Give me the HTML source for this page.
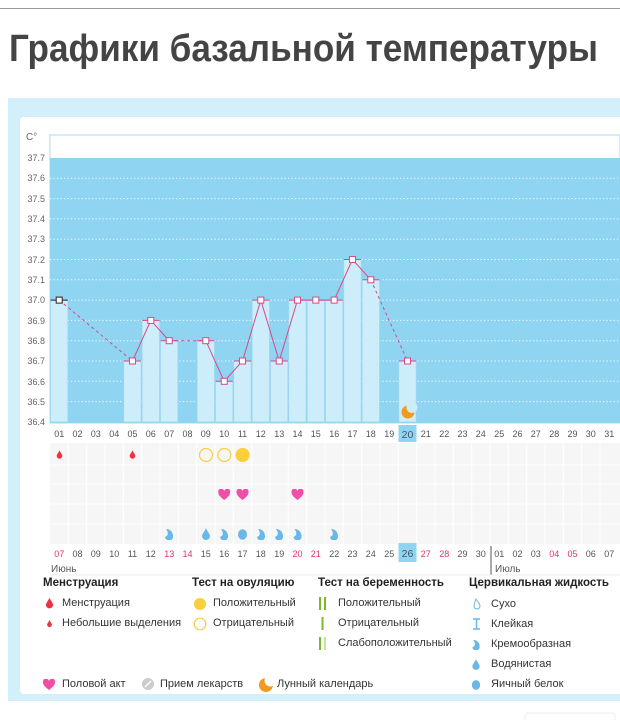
<!DOCTYPE html>
<html><head><meta charset="utf-8"><style>
body{margin:0;width:620px;height:720px;overflow:hidden;background:#fff;font-family:"Liberation Sans","DejaVu Sans",sans-serif;position:relative}
.topbar{position:absolute;left:0;top:0;width:620px;height:8px;border-bottom:1px solid #999;background:#fff}
.outer{position:absolute;left:8px;top:98px;width:612px;height:603px;background:#d3eff9}
.card{position:absolute;left:20px;top:117px;width:600px;height:577px;background:#fff;border-radius:4px 0 0 4px}
svg{position:absolute;left:0;top:0}
.lg{position:absolute;font-size:11px;color:#333;white-space:nowrap}
.lh{position:absolute;font-size:11.5px;font-weight:bold;color:#222;white-space:nowrap}
</style></head><body>
<div class="topbar"></div>
<svg width="620" height="90" style="position:absolute;left:0;top:0"><text x="9" y="61" font-size="38" font-weight="bold" fill="#444" font-family="Liberation Sans, sans-serif" textLength="589" lengthAdjust="spacingAndGlyphs">Графики базальной температуры</text></svg>
<div class="outer"></div>
<div class="card"></div>
<svg width="620" height="720" viewBox="0 0 620 720" font-family="Liberation Sans, sans-serif">
<defs>
<symbol id="drop" viewBox="0 0 10 12"><path d="M5 0 C6 3 9 6 9 8 A4 4 0 0 1 1 8 C1 6 4 3 5 0Z"/></symbol>
<symbol id="cream" viewBox="0 0 10 12"><path d="M2 1 C6 1 9 4 9 8 A4 4 0 0 1 1 9 C4 8 5 5 2 1Z"/></symbol>
<symbol id="egg" viewBox="0 0 10 12"><ellipse cx="5" cy="6.5" rx="4.5" ry="5.3"/></symbol>
<symbol id="heart" viewBox="0 0 12 11"><path d="M6 11 C2 8 0 6 0 3.3 A3 3 0 0 1 6 2 A3 3 0 0 1 12 3.3 C12 6 10 8 6 11Z"/></symbol>
</defs>
<rect x="50" y="135" width="570" height="288" fill="#fff" stroke="#a7dcf0"/>
<rect x="50" y="158" width="570" height="265" fill="#8fd5f1"/>
<g stroke="#fff" stroke-width="1" stroke-dasharray="1.2 2.3" opacity="0.9">
<line x1="50" x2="620" y1="178.3" y2="178.3"/><line x1="50" x2="620" y1="198.6" y2="198.6"/><line x1="50" x2="620" y1="218.9" y2="218.9"/><line x1="50" x2="620" y1="239.2" y2="239.2"/><line x1="50" x2="620" y1="259.5" y2="259.5"/><line x1="50" x2="620" y1="279.8" y2="279.8"/><line x1="50" x2="620" y1="300.1" y2="300.1"/><line x1="50" x2="620" y1="320.4" y2="320.4"/><line x1="50" x2="620" y1="340.7" y2="340.7"/><line x1="50" x2="620" y1="361" y2="361"/><line x1="50" x2="620" y1="381.3" y2="381.3"/><line x1="50" x2="620" y1="401.6" y2="401.6"/>
</g>
<g fill="#cdedfa" stroke="#9fd8ef" stroke-width="0.7">
<rect x="50.5" y="300" width="17.3" height="122"/>
<rect x="123.8" y="361" width="17.3" height="61"/>
<rect x="142.2" y="320.4" width="17.3" height="101.6"/>
<rect x="160.5" y="340.7" width="17.3" height="81.3"/>
<rect x="197.2" y="340.7" width="17.3" height="81.3"/>
<rect x="215.5" y="381.3" width="17.3" height="40.7"/>
<rect x="233.8" y="361" width="17.3" height="61"/>
<rect x="252.2" y="300" width="17.3" height="122"/>
<rect x="270.5" y="361" width="17.3" height="61"/>
<rect x="288.8" y="300" width="17.3" height="122"/>
<rect x="307.2" y="300" width="17.3" height="122"/>
<rect x="325.5" y="300" width="17.3" height="122"/>
<rect x="343.8" y="259.5" width="17.3" height="162.5"/>
<rect x="362.2" y="279.8" width="17.3" height="142.2"/>
<rect x="398.8" y="361" width="17.3" height="61"/>
</g>
<g font-size="9" fill="#666" text-anchor="end">
<text x="26" y="140" font-size="10" text-anchor="start">C°</text>
<text x="45" y="161">37.7</text><text x="45" y="181">37.6</text><text x="45" y="202">37.5</text><text x="45" y="222">37.4</text><text x="45" y="242">37.3</text><text x="45" y="263">37.2</text><text x="45" y="283">37.1</text><text x="45" y="303">37.0</text><text x="45" y="324">36.9</text><text x="45" y="344">36.8</text><text x="45" y="364">36.7</text><text x="45" y="385">36.6</text><text x="45" y="405">36.5</text><text x="45" y="425">36.4</text>
</g>
<g stroke="#d9488a" stroke-width="1" fill="none">
<path d="M59.2 300.1 L132.5 361" stroke-dasharray="3 3"/>
<path d="M169.2 340.7 L205.8 340.7" stroke-dasharray="3 3"/>
<path d="M370.8 279.8 L407.5 361" stroke-dasharray="3 3"/>
<path d="M132.5 361 L150.8 320.4 L169.2 340.7"/>
<path d="M205.8 340.7 L224.2 381.3 L242.5 361 L260.8 300.1 L279.2 361 L297.5 300.1 L315.8 300.1 L334.2 300.1 L352.5 259.5 L370.8 279.8"/>
<path d="M123.8 361h17.3M142.2 320.4h17.3M160.5 340.7h17.3M197.2 340.7h17.3M215.5 381.3h17.3M233.8 361h17.3M252.2 300.1h17.3M270.5 361h17.3M288.8 300.1h17.3M307.2 300.1h17.3M325.5 300.1h17.3M343.8 259.5h17.3M362.2 279.8h17.3M398.8 361h17.3"/>
</g>
<path d="M50.5 300.1h17.3" stroke="#222" stroke-width="1"/>
<g fill="#fff" stroke="#d9488a" stroke-width="1">
<rect x="129.5" y="358" width="6" height="6"/><rect x="147.8" y="317.4" width="6" height="6"/><rect x="166.2" y="337.7" width="6" height="6"/><rect x="202.8" y="337.7" width="6" height="6"/><rect x="221.2" y="378.3" width="6" height="6"/><rect x="239.5" y="358" width="6" height="6"/><rect x="257.8" y="297.1" width="6" height="6"/><rect x="276.2" y="358" width="6" height="6"/><rect x="294.5" y="297.1" width="6" height="6"/><rect x="312.8" y="297.1" width="6" height="6"/><rect x="331.2" y="297.1" width="6" height="6"/><rect x="349.5" y="256.5" width="6" height="6"/><rect x="367.8" y="276.8" width="6" height="6"/><rect x="404.5" y="358" width="6" height="6"/>
</g>
<rect x="56.2" y="297.1" width="6" height="6" fill="#fff" stroke="#222"/>
<circle cx="408" cy="412" r="6.5" fill="#f29a1e"/><circle cx="412" cy="407.5" r="5.5" fill="#cdedfa"/>
<rect x="50" y="443" width="570" height="101" fill="#f6f6f6"/>
<g stroke="#fff" stroke-width="1">
<path d="M68.3 443v101M86.7 443v101M105 443v101M123.3 443v101M141.7 443v101M160 443v101M178.3 443v101M196.7 443v101M215 443v101M233.3 443v101M251.7 443v101M270 443v101M288.3 443v101M306.7 443v101M325 443v101M343.3 443v101M361.7 443v101M380 443v101M398.3 443v101M416.7 443v101M435 443v101M453.3 443v101M471.7 443v101M490 443v101M508.3 443v101M526.7 443v101M545 443v101M563.3 443v101M581.7 443v101M600 443v101"/>
<path d="M50 465h570M50 484h570M50 504h570M50 524h570"/>
</g>
<rect x="398.5" y="425" width="18" height="17" fill="#8fd5f1"/>
<rect x="398.5" y="543" width="18" height="19" fill="#8fd5f1"/>
<g font-size="9" fill="#555" text-anchor="middle">
<text x="59.2" y="437">01</text><text x="77.5" y="437">02</text><text x="95.8" y="437">03</text><text x="114.2" y="437">04</text><text x="132.5" y="437">05</text><text x="150.8" y="437">06</text><text x="169.2" y="437">07</text><text x="187.5" y="437">08</text><text x="205.8" y="437">09</text><text x="224.2" y="437">10</text><text x="242.5" y="437">11</text><text x="260.8" y="437">12</text><text x="279.2" y="437">13</text><text x="297.5" y="437">14</text><text x="315.8" y="437">15</text><text x="334.2" y="437">16</text><text x="352.5" y="437">17</text><text x="370.8" y="437">18</text><text x="389.2" y="437">19</text><text x="407.5" y="438" font-size="10.5" fill="#456">20</text><text x="425.8" y="437">21</text><text x="444.2" y="437">22</text><text x="462.5" y="437">23</text><text x="480.8" y="437">24</text><text x="499.2" y="437">25</text><text x="517.5" y="437">26</text><text x="535.8" y="437">27</text><text x="554.2" y="437">28</text><text x="572.5" y="437">29</text><text x="590.8" y="437">30</text><text x="609.2" y="437">31</text>
</g>
<g font-size="9" fill="#555" text-anchor="middle">
<text x="59.2" y="557" fill="#e0336f">07</text><text x="77.5" y="557">08</text><text x="95.8" y="557">09</text><text x="114.2" y="557">10</text><text x="132.5" y="557">11</text><text x="150.8" y="557">12</text><text x="169.2" y="557" fill="#e0336f">13</text><text x="187.5" y="557" fill="#e0336f">14</text><text x="205.8" y="557">15</text><text x="224.2" y="557">16</text><text x="242.5" y="557">17</text><text x="260.8" y="557">18</text><text x="279.2" y="557">19</text><text x="297.5" y="557" fill="#e0336f">20</text><text x="315.8" y="557" fill="#e0336f">21</text><text x="334.2" y="557">22</text><text x="352.5" y="557">23</text><text x="370.8" y="557">24</text><text x="389.2" y="557">25</text><text x="407.5" y="557" font-size="10.5" fill="#456">26</text><text x="425.8" y="557" fill="#e0336f">27</text><text x="444.2" y="557" fill="#e0336f">28</text><text x="462.5" y="557">29</text><text x="480.8" y="557">30</text><text x="499.2" y="557">01</text><text x="517.5" y="557">02</text><text x="535.8" y="557">03</text><text x="554.2" y="557" fill="#e0336f">04</text><text x="572.5" y="557" fill="#e0336f">05</text><text x="590.8" y="557">06</text><text x="609.2" y="557">07</text>
</g>
<line x1="491" y1="546" x2="491" y2="575" stroke="#555"/>
<text x="51" y="572" font-size="10" fill="#555">Июнь</text>
<text x="495" y="572" font-size="10" fill="#555">Июль</text>
<line x1="50" y1="575" x2="620" y2="575" stroke="#eee"/>
<g fill="#ee3340"><use href="#drop" x="56" y="450" width="7" height="9"/><use href="#drop" x="129" y="450" width="7" height="9"/></g>
<circle cx="206" cy="455" r="6.5" fill="none" stroke="#f6cf45" stroke-width="1.2"/>
<circle cx="224.3" cy="455" r="6.5" fill="none" stroke="#f6cf45" stroke-width="1.2"/>
<circle cx="242.6" cy="455" r="7" fill="#f9cf3c"/>
<g fill="#f04fa7"><use href="#heart" x="218.2" y="489" width="12" height="11"/><use href="#heart" x="236.5" y="489" width="12" height="11"/><use href="#heart" x="291.5" y="489" width="12" height="11"/></g>
<g fill="#6ab8e8">
<use href="#cream" x="164" y="528" width="10" height="12"/><use href="#drop" x="201" y="528" width="10" height="12"/><use href="#cream" x="219" y="528" width="10" height="12"/><use href="#egg" x="237.5" y="528" width="10" height="12"/><use href="#cream" x="256" y="528" width="10" height="12"/><use href="#cream" x="274" y="528" width="10" height="12"/><use href="#cream" x="292.5" y="528" width="10" height="12"/><use href="#cream" x="329" y="528" width="10" height="12"/>
</g>
<use href="#drop" x="45" y="597" width="9" height="12" fill="#ee3340"/>
<use href="#drop" x="46.5" y="619" width="6" height="9" fill="#ee3340"/>
<circle cx="200" cy="604" r="6" fill="#f9cf3c"/>
<circle cx="200" cy="624" r="5.8" fill="none" stroke="#f6cf45" stroke-width="1.2"/>
<g stroke-width="2"><path d="M320 597v13M325 597v13" stroke="#7cb82f"/><path d="M322.5 617v13" stroke="#7cb82f"/><path d="M320 637v13" stroke="#7cb82f"/><path d="M325 637v13" stroke="#c8e4a0"/></g>
<path d="M476 599 C478 602 480 604 480 606 A3 3 0 0 1 474 606 C474 604 475 602 476 599Z" fill="none" stroke="#6ab8e8"/>
<path d="M473 619h7M473 629h7M476.5 619v10" stroke="#6ab8e8" stroke-width="1.5"/>
<use href="#cream" x="471" y="639" width="10" height="11" fill="#6ab8e8"/>
<use href="#drop" x="471" y="659" width="10" height="11" fill="#6ab8e8"/>
<use href="#egg" x="471" y="679" width="10" height="11" fill="#6ab8e8"/>
<use href="#heart" x="43" y="679" width="12" height="11" fill="#f04fa7"/>
<circle cx="148" cy="684" r="6" fill="#ccc"/><path d="M145 687l6-6" stroke="#fff" stroke-width="1.5"/>
<circle cx="266" cy="685" r="7" fill="#f29a1e"/><circle cx="270.5" cy="680.5" r="6" fill="#fff"/>
<rect x="525" y="713" width="90" height="10" rx="3" fill="#fff" stroke="#eee"/>
</svg>
<div class="lh" style="left:43px;top:577px">Менструация</div>
<div class="lh" style="left:192px;top:577px">Тест на овуляцию</div>
<div class="lh" style="left:318px;top:577px">Тест на беременность</div>
<div class="lh" style="left:469px;top:577px">Цервикальная жидкость</div>
<div class="lg" style="left:62px;top:597px">Менструация</div>
<div class="lg" style="left:62px;top:617px">Небольшие выделения</div>
<div class="lg" style="left:213px;top:597px">Положительный</div>
<div class="lg" style="left:213px;top:617px">Отрицательный</div>
<div class="lg" style="left:338px;top:597px">Положительный</div>
<div class="lg" style="left:338px;top:617px">Отрицательный</div>
<div class="lg" style="left:338px;top:637px">Слабоположительный</div>
<div class="lg" style="left:491px;top:598px">Сухо</div>
<div class="lg" style="left:491px;top:618px">Клейкая</div>
<div class="lg" style="left:491px;top:638px">Кремообразная</div>
<div class="lg" style="left:491px;top:658px">Водянистая</div>
<div class="lg" style="left:491px;top:678px">Яичный белок</div>
<div class="lg" style="left:62px;top:678px">Половой акт</div>
<div class="lg" style="left:160px;top:678px">Прием лекарств</div>
<div class="lg" style="left:277px;top:678px">Лунный календарь</div>
</body></html>
